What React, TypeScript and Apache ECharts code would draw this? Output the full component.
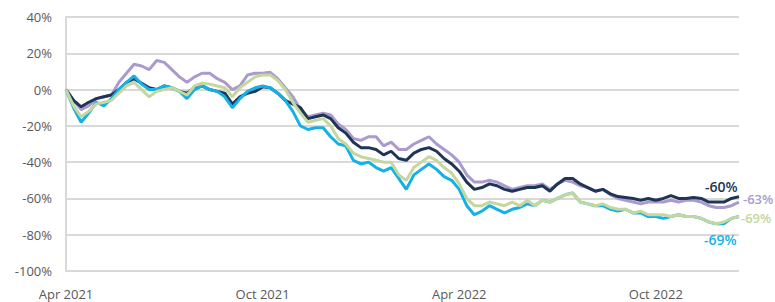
import React, { useEffect, useRef } from "react";
import * as echarts from "echarts";

const START = "2021-04-01";
const WEEKS = 90;
const tickIndex = [0, 26, 52, 78];
const tickLabels = ["Apr 2021", "Oct 2021", "Apr 2022", "Oct 2022"];

const seriesNames = ["Series A", "Series B", "Series C", "Series D"];
const colors = ["#ab9acd", "#1e3556", "#14b1e7", "#c4d79e"];
const endLabels = ["-63%", "-60%", "-69%", "-69%"];

const purple = [0, -6, -11, -9, -5, -4, -3, 4, 9, 14, 13, 11, 16, 15, 11, 7, 4, 7, 9, 9, 6, 4, 0, 2, 8, 9, 9, 9.5, 6, 1, -4, -11, -15, -14, -13, -14, -19, -22, -27, -28, -26, -26, -31, -29, -33, -33, -30, -28, -26, -30, -33, -36, -40, -47, -51, -51, -50, -51, -53, -55, -54, -53, -53, -52, -55, -52, -50, -51, -53, -54, -56, -55, -58, -60, -61, -62, -63, -62, -62, -62, -61, -62, -61, -61, -62, -64, -65, -65, -64, -62];
const navy = [0, -6, -9.5, -7, -5, -4, -3, 0, 4, 6, 3.5, 1, 0, 2, 1, -1, -2, 1, 2, 0, -1, -2, -8, -4, -2, -1, 1.5, 1, -2, -6, -8, -10, -16, -15, -14, -16, -21, -24, -29, -32, -32, -33, -36, -34, -38, -39, -35, -33, -32, -34, -38, -41, -45, -51, -55, -54, -52, -53, -55, -56, -55, -54, -54, -53, -56, -52, -49, -49, -52, -54, -56, -55, -57.5, -59, -59.5, -60, -61, -60, -61, -60, -58.5, -60, -60, -59.5, -60, -62, -62, -62, -60, -59];
const cyan = [0, -10, -18, -13, -7, -9, -5, 0, 4, 7.5, 3, 0, 0, 2, 1, -1, -5, 0, 2, 0, -1, -4, -10, -5, -1, 1, 2, 1, -2, -6, -12, -20, -22, -21, -21, -26, -30, -31, -39, -41, -40, -43, -45, -43, -49, -55, -47, -44, -41, -44, -48, -50, -55, -64, -69, -67, -64, -66, -68, -66, -65, -63, -64, -61, -62, -60, -58, -57, -62, -63, -64, -64, -66, -67, -66, -68, -68, -70, -70, -71, -70, -69, -70, -70, -71, -73, -74, -74, -71, -70];
const green = [0, -9, -15, -12, -8, -7, -6, -2, 2, 4, 0, -4, -1, 0, 1, -1, -3, 2, 3.5, 3, 2, 1, -4, 1, 4, 7, 8, 8, 5, 0, -7, -13, -18, -17, -16, -20, -27, -30, -35, -37, -38, -39, -40, -40, -47, -50, -43, -40, -37, -39, -43, -46, -52, -60, -64, -64, -62, -63, -64, -62, -64, -61, -64, -61, -62, -60, -58, -57, -62, -63, -64, -63, -65, -66, -66, -68, -67, -69, -69, -69, -70, -69, -70, -70, -71, -73, -74, -73, -71, -70];

const seriesValues = [purple, navy, cyan, green];
const labelOffsets: [number, number][] = [[0, -3], [-38, -10], [-39, 23], [-2, 1]];
const labelSizes = [13, 14, 14, 13];

function weekDates(): string[] {
  const out: string[] = [];
  const d0 = new Date(START + "T00:00:00Z").getTime();
  for (let i = 0; i < WEEKS; i++) {
    out.push(new Date(d0 + i * 7 * 86400000).toISOString().slice(0, 10));
  }
  return out;
}

export default function App() {
  const ref = useRef<HTMLDivElement>(null);
  useEffect(() => {
    if (!ref.current) return;
    const chart = echarts.init(ref.current, null, { renderer: "svg" });
    const cats = weekDates();
    chart.setOption({
      animation: false,
      grid: { left: 66, right: 36, top: 17, bottom: 31, containLabel: false },
      xAxis: {
        type: "category",
        data: cats,
        boundaryGap: false,
        axisLine: { show: false },
        axisTick: { show: false },
        axisLabel: {
          interval: (index: number) => tickIndex.includes(index),
          formatter: (_v: string, index: number) => {
            const i = tickIndex.indexOf(index);
            return i >= 0 ? tickLabels[i] : "";
          },
          color: "#595959",
          fontSize: 13,
          fontFamily: "Open Sans",
          margin: 16,
        },
        splitLine: { show: false },
      },
      yAxis: {
        type: "value",
        min: -100,
        max: 40,
        interval: 20,
        axisLine: { show: true, lineStyle: { color: "#d9d9d9", width: 2 } },
        axisTick: { show: false },
        axisLabel: {
          formatter: "{value}%",
          color: "#595959",
          fontSize: 13,
          fontFamily: "Open Sans",
          margin: 14,
        },
        splitLine: { lineStyle: { color: "#d9d9d9", width: 2 } },
      },
      series: seriesValues.map((vals, i) => ({
        name: seriesNames[i],
        type: "line",
        data: vals,
        symbol: "none",
        smooth: false,
        lineStyle: { color: colors[i], width: 3 },
        itemStyle: { color: colors[i] },
        z: 2 + i,
        endLabel: {
          show: true,
          formatter: endLabels[i],
          color: colors[i],
          fontSize: labelSizes[i],
          fontFamily: "Open Sans",
          fontWeight: 600,
          distance: 4,
          offset: labelOffsets[i],
        },
      })),
    });
    return () => chart.dispose();
  }, []);
  return (
    <div
      ref={ref}
      style={{ position: "absolute", left: 0, top: 0, width: 775, height: 302 }}
    />
  );
}
